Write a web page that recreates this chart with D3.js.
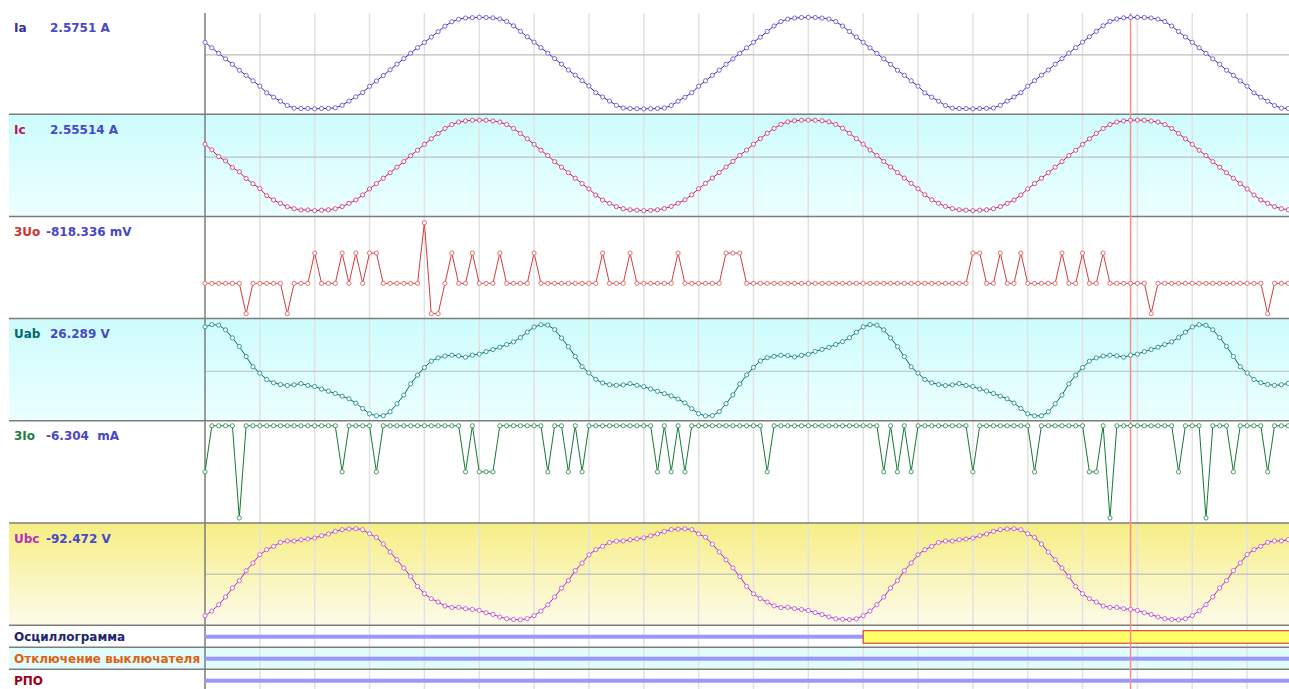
<!DOCTYPE html>
<html>
<head>
<meta charset="utf-8">
<script src="https://cdn.jsdelivr.net/npm/d3@7"></script>
<style>
body { margin: 0; background: #fff; }
svg { display: block; font-family: "DejaVu Sans", Verdana, sans-serif; }
text { white-space: pre; }
</style>
</head>
<body>
<svg id="chart" width="1289" height="689"></svg>
<script>
// samples per grid division and cursor position
var gridStep = 8;
var cursorSample = 135;

var ia = [1.17, 0.86, 0.55, 0.24, -0.07, -0.40, -0.69, -1.00, -1.30, -1.68, -1.92, -2.15, -2.39, -2.54, -2.56, -2.56, -2.58,
    -2.56, -2.55, -2.52, -2.38, -2.14, -1.90, -1.66, -1.31, -1.01, -0.70, -0.38, -0.06, 0.25, 0.56, 0.87, 1.16, 1.47, 1.77, 2.08, 2.33, 2.47, 2.54, 2.56, 2.58,
    2.57, 2.55, 2.49, 2.35, 2.10, 1.79, 1.48, 1.18, 0.87, 0.56, 0.25, -0.06, -0.39, -0.68, -0.99, -1.29, -1.67, -1.91, -2.14, -2.38, -2.53, -2.56, -2.57, -2.58,
    -2.57, -2.56, -2.53, -2.39, -2.15, -1.92, -1.67, -1.30, -1.00, -0.69, -0.40, -0.07, 0.24, 0.55, 0.86, 1.17, 1.46, 1.78, 2.09, 2.34, 2.48, 2.54, 2.57, 2.58,
    2.57, 2.54, 2.48, 2.34, 2.09, 1.78, 1.47, 1.17, 0.86, 0.55, 0.24, -0.07, -0.40, -0.69, -1.00, -1.30, -1.68, -1.92, -2.15, -2.39, -2.54, -2.56, -2.56, -2.58,
    -2.56, -2.55, -2.53, -2.38, -2.14, -1.91, -1.67, -1.30, -0.99, -0.68, -0.39, -0.06, 0.25, 0.56, 0.87, 1.18, 1.48, 1.79, 2.10, 2.35, 2.49, 2.55, 2.57, 2.58,
    2.57, 2.54, 2.48, 2.34, 2.09, 1.78, 1.47, 1.17, 0.86, 0.55, 0.24, -0.07, -0.40, -0.69, -1.00, -1.30, -1.68, -1.92, -2.15, -2.39, -2.54, -2.56];

var ic = [1.20, 0.88, 0.50, 0.26, -0.11, -0.35, -0.73, -1.02, -1.29, -1.69, -1.93, -2.12, -2.31, -2.42, -2.49, -2.49, -2.53,
    -2.50, -2.48, -2.42, -2.30, -2.12, -1.93, -1.65, -1.31, -1.01, -0.71, -0.40, -0.09, 0.22, 0.56, 0.86, 1.19, 1.50, 1.80, 2.08, 2.30, 2.44, 2.50, 2.54, 2.55,
    2.54, 2.50, 2.44, 2.30, 2.08, 1.80, 1.50, 1.19, 0.86, 0.56, 0.22, -0.09, -0.40, -0.71, -1.01, -1.31, -1.65, -1.93, -2.12, -2.30, -2.42, -2.48, -2.50, -2.53,
    -2.51, -2.48, -2.41, -2.29, -2.11, -1.92, -1.64, -1.30, -1.00, -0.70, -0.39, -0.08, 0.23, 0.57, 0.87, 1.20, 1.51, 1.81, 2.08, 2.31, 2.45, 2.51, 2.54, 2.55,
    2.54, 2.51, 2.45, 2.31, 2.09, 1.81, 1.51, 1.20, 0.87, 0.57, 0.23, -0.08, -0.39, -0.70, -1.00, -1.30, -1.64, -1.92, -2.11, -2.29, -2.41, -2.48, -2.50, -2.53,
    -2.50, -2.48, -2.42, -2.30, -2.12, -1.93, -1.65, -1.31, -1.01, -0.71, -0.40, -0.09, 0.22, 0.56, 0.86, 1.19, 1.50, 1.80, 2.08, 2.30, 2.44, 2.50, 2.54, 2.55,
    2.54, 2.50, 2.44, 2.30, 2.08, 1.80, 1.50, 1.19, 0.86, 0.56, 0.22, -0.09, -0.40, -0.71, -1.01, -1.31, -1.65, -1.93, -2.12, -2.30, -2.42, -2.48];

// 3Uo, mV
var u0 = [-818, -818, -818, -818, -818, -818, -1637, -818, -818, -818, -818, -818, -1637, -818, -818, -818,
    0, -818, -818, -818, 0, -818, 0, -818, 0, 0, -818, -818, -818, -818, -818, -818,
    818, -1637, -1637, -818, 0, -818, -818, 0, -818, -818, -818, 0, -818, -818, -818, -818,
    0, -818, -818, -818, -818, -818, -818, -818, -818, -818, 0, -818, -818, -818, 0, -818,
    -818, -818, -818, -818, -818, 0, -818, -818, -818, -818, -818, -818, 0, 0, 0, -818,
    -818, -818, -818, -818, -818, -818, -818, -818, -818, -818, -818, -818, -818, -818, -818, -818,
    -818, -818, -818, -818, -818, -818, -818, -818, -818, -818, -818, -818, -818, -818, -818, -818,
    0, 0, -818, -818, 0, -818, -818, 0, -818, -818, -818, -818, -818, 0, -818, -818,
    0, -818, -818, 0, -818, -818, -818, -818, -818, -818, -1637, -818, -818, -818, -818, -818,
    -818, -818, -818, -818, -818, -818, -818, -818, -818, -818, -818, -1637, -818, -818, -818];

var uab = [75.3, 79.2, 78.2, 70.1, 56.2, 41.2, 23.9, 6.1, -4.8, -15.9, -21.6, -24.6, -26.3, -25.1, -22.8, -26.3,
    -28.0, -32.5, -36.0, -40.1, -44.6, -49.3, -56.7, -66.1, -75.3, -78.7, -78.7, -71.8, -58.0, -42.9, -23.4, -8.3,
    4.8, 15.9, 21.6, 24.6, 26.3, 25.1, 22.8, 26.3, 28.0, 32.5, 36.0, 40.1, 44.6, 49.3, 56.7, 66.1,
    75.0, 79.0, 78.4, 70.5, 56.0, 41.0, 24.2, 6.4, -4.5, -15.6, -21.8, -24.9, -26.0, -25.3, -23.0, -26.0,
    -28.3, -32.2, -36.3, -40.4, -44.3, -49.6, -56.4, -66.4, -75.0, -79.0, -78.4, -71.5, -57.7, -42.6, -23.7, -8.0,
    5.1, 16.2, 21.9, 24.3, 26.0, 25.4, 23.1, 26.0, 27.7, 32.8, 36.3, 39.8, 44.9, 49.6, 56.4, 65.8,
    75.3, 79.2, 78.2, 70.1, 56.2, 41.2, 23.9, 6.1, -4.8, -15.9, -21.6, -24.6, -26.3, -25.1, -22.8, -26.3,
    -28.0, -32.5, -36.0, -40.1, -44.6, -49.3, -56.7, -66.1, -75.3, -78.7, -78.7, -71.8, -58.0, -42.9, -23.4, -8.3,
    4.8, 15.9, 21.6, 24.6, 26.3, 25.1, 22.8, 26.3, 28.0, 32.5, 36.0, 40.1, 44.6, 49.3, 56.7, 66.1,
    75.1, 79.0, 78.0, 70.3, 56.5, 41.5, 24.0, 6.2, -4.6, -15.8, -21.4, -24.4, -26.1, -25.0, -22.6];

// 3Io, mA
var i0 = [-12.6, -6.3, -6.3, -6.3, -6.3, -18.9, -6.3, -6.3, -6.3, -6.3, -6.3, -6.3, -6.3, -6.3, -6.3, -6.3,
    -6.3, -6.3, -6.3, -6.3, -12.6, -6.3, -6.3, -6.3, -6.3, -12.6, -6.3, -6.3, -6.3, -6.3, -6.3, -6.3,
    -6.3, -6.3, -6.3, -6.3, -6.3, -6.3, -12.6, -6.3, -12.6, -12.6, -12.6, -6.3, -6.3, -6.3, -6.3, -6.3,
    -6.3, -6.3, -12.6, -6.3, -6.3, -12.6, -6.3, -12.6, -6.3, -6.3, -6.3, -6.3, -6.3, -6.3, -6.3, -6.3,
    -6.3, -6.3, -12.6, -6.3, -12.6, -6.3, -12.6, -6.3, -6.3, -6.3, -6.3, -6.3, -6.3, -6.3, -6.3, -6.3,
    -6.3, -6.3, -12.6, -6.3, -6.3, -6.3, -6.3, -6.3, -6.3, -6.3, -6.3, -6.3, -6.3, -6.3, -6.3, -6.3,
    -6.3, -6.3, -6.3, -12.6, -6.3, -12.6, -6.3, -12.6, -6.3, -6.3, -6.3, -6.3, -6.3, -6.3, -6.3, -6.3,
    -12.6, -6.3, -6.3, -6.3, -6.3, -6.3, -6.3, -6.3, -6.3, -12.6, -6.3, -6.3, -6.3, -6.3, -6.3, -6.3,
    -6.3, -12.6, -12.6, -6.3, -18.9, -6.3, -6.3, -6.3, -6.3, -6.3, -6.3, -6.3, -6.3, -6.3, -12.6, -6.3,
    -6.3, -6.3, -18.9, -6.3, -6.3, -6.3, -12.6, -6.3, -6.3, -6.3, -6.3, -12.6, -6.3, -6.3, -6.3];

var ubc = [-109.1, -96.8, -80.2, -60.0, -36.3, -17.1, 9.2, 29.5, 51.3, 64.4, 73.1, 83.6, 87.3, 87.3, 90.7, 92.6,
    95.2, 101.3, 105.7, 112.6, 117.0, 118.9, 119.7, 117.0, 106.5, 96.8, 79.4, 58.4, 38.1, 16.3, -5.8, -32.1,
    -51.3, -64.4, -73.1, -83.6, -87.3, -87.3, -90.7, -92.6, -95.2, -101.3, -105.7, -112.6, -117.0, -118.9, -119.7, -117.0,
    -108.8, -97.1, -80.5, -59.7, -36.6, -16.8, 9.5, 29.2, 51.0, 64.7, 73.4, 83.3, 87.0, 87.6, 90.4, 92.9,
    95.5, 101.0, 106.0, 112.3, 117.3, 118.6, 119.4, 117.3, 106.2, 97.1, 79.1, 58.7, 37.8, 16.6, -6.1, -31.8,
    -51.6, -64.1, -73.4, -83.3, -87.6, -87.0, -90.4, -92.9, -95.5, -101.0, -106.0, -112.3, -117.3, -118.6, -119.4, -117.3,
    -109.1, -96.8, -80.2, -60.0, -36.3, -17.1, 9.2, 29.5, 51.3, 64.4, 73.1, 83.6, 87.3, 87.3, 90.7, 92.6,
    95.2, 101.3, 105.7, 112.6, 117.0, 118.9, 119.7, 117.0, 106.5, 96.8, 79.4, 58.4, 38.1, 16.3, -5.8, -32.1,
    -51.3, -64.4, -73.1, -83.6, -87.3, -87.3, -90.7, -92.5, -95.2, -101.3, -105.7, -112.6, -117.0, -118.9, -119.7, -117.0,
    -108.9, -96.6, -80.0, -59.8, -36.1, -16.9, 9.4, 29.7, 51.5, 64.6, 73.3, 83.8, 87.5, 87.5, 90.9];

// discrete channels: [fromSample, toSample, state]
var digOsc = [[0, 96, 0], [96, 158, 1]];
var digTrip = [[0, 158, 0]];
var digRpo = [[0, 158, 0]];

var channels = [
    {name: 'Ia', value: '2.5751 A', valueX: 50, data: ia, domain: [-2.88, 2.88], color: '#2a2aa8', dot: '#7a68d6', label: '#30308f', bg: null, mid: 0.42},
    {name: 'Ic', value: '2.55514 A', valueX: 50, data: ic, domain: [-2.85, 2.88], color: '#c8155a', dot: '#d8508a', label: '#c0105a', bg: 'cyan', mid: 0.42},
    {name: '3Uo', value: '-818.336 mV', valueX: 46, data: u0, domain: [-1770, 990], color: '#d03c3c', dot: '#e07070', label: '#cc3333', bg: null, mid: null},
    {name: 'Uab', value: '26.289 V', valueX: 50, data: uab, domain: [-87.4, 89.6], color: '#006a6a', dot: '#3a9a9a', label: '#006a6a', bg: 'cyan', mid: 0.515},
    {name: '3Io', value: '-6.304  mA', valueX: 46, data: i0, domain: [-19.59, -5.62], color: '#137a35', dot: '#4a9a6a', label: '#208040', bg: null, mid: null},
    {name: 'Ubc', value: '-92.472 V', valueX: 46, data: ubc, domain: [-134.1, 134.7], color: '#b020c0', dot: '#c868d8', label: '#b830b8', bg: 'yellow', mid: 0.5}
];

var digital = [
    {name: 'Осциллограмма', data: digOsc, label: '#22226e', bg: null},
    {name: 'Отключение выключателя', data: digTrip, label: '#e06010', bg: '#e2fcfc'},
    {name: 'РПО', data: digRpo, label: '#990022', bg: null}
];

var width = 1289, height = 689;
var left = 9, axisX = 205, top0 = 12, panelH = 102.2, rowH = 22;
var fontSize = 12;

var svg = d3.select('#chart');
var defs = svg.append('defs');

function gradient(id, c0, c1) {
    var g = defs.append('linearGradient').attr('id', id).attr('x1', 0).attr('y1', 0).attr('x2', 0).attr('y2', 1);
    g.append('stop').attr('offset', '0%').attr('stop-color', c0);
    g.append('stop').attr('offset', '100%').attr('stop-color', c1);
}
gradient('cyan', '#cdfcfc', '#ecffff');
gradient('yellow', '#f6ee84', '#fdfbea');

var x = d3.scaleLinear().domain([0, ia.length - 1]).range([axisX, axisX + (ia.length - 1) * 6.856]);

var analogBottom = top0 + channels.length * panelH;

// backgrounds
channels.forEach(function(ch, i) {
    if (ch.bg) {
        svg.append('rect').attr('x', left).attr('y', top0 + i * panelH).attr('width', width - left).attr('height', panelH)
            .attr('fill', 'url(#' + ch.bg + ')');
    }
});
digital.forEach(function(ch, i) {
    if (ch.bg) {
        svg.append('rect').attr('x', left).attr('y', analogBottom + i * rowH).attr('width', width - left).attr('height', rowH)
            .attr('fill', ch.bg);
    }
});

// vertical grid
var gridTicks = d3.range(gridStep, ia.length, gridStep);
svg.append('g').selectAll('line').data(gridTicks).enter().append('line')
    .attr('x1', function(d) { return x(d); }).attr('x2', function(d) { return x(d); })
    .attr('y1', top0 + 1).attr('y2', height)
    .attr('stroke', '#e2e2e2').attr('stroke-width', 1.5);

// horizontal mid lines
channels.forEach(function(ch, i) {
    if (ch.mid !== null) {
        var yy = top0 + i * panelH + ch.mid * panelH;
        svg.append('line').attr('x1', axisX).attr('x2', width).attr('y1', yy).attr('y2', yy)
            .attr('stroke', '#bdbdbd').attr('stroke-width', 1.2);
    }
});

// separators
var seps = d3.range(1, channels.length + 1).map(function(k) { return top0 + k * panelH; })
    .concat([1, 2].map(function(k) { return analogBottom + k * rowH; }));
svg.append('g').selectAll('line').data(seps).enter().append('line')
    .attr('x1', left).attr('x2', width).attr('y1', function(d) { return d; }).attr('y2', function(d) { return d; })
    .attr('stroke', '#7c7c7c').attr('stroke-width', 1.5);

svg.append('line').attr('x1', axisX).attr('x2', axisX).attr('y1', top0 + 1).attr('y2', height)
    .attr('stroke', '#7c7c7c').attr('stroke-width', 1.5);

// discrete rows
digital.forEach(function(ch, i) {
    var rowTop = analogBottom + i * rowH;
    ch.data.forEach(function(seg) {
        var x0 = x(seg[0]), x1 = seg[1] === ia.length - 1 ? width + 2 : x(seg[1]);
        if (seg[2] === 0) {
            svg.append('rect').attr('x', x0).attr('y', rowTop + 9.5).attr('width', x1 - x0).attr('height', 4)
                .attr('fill', '#9898ff');
        } else {
            svg.append('rect').attr('x', x0).attr('y', rowTop + 5.5).attr('width', x1 - x0).attr('height', 12.5)
                .attr('fill', '#ffff66').attr('stroke', '#cc2a2a').attr('stroke-width', 1);
        }
    });
    svg.append('text').attr('x', 14).attr('y', rowTop + 16).attr('fill', ch.label)
        .attr('font-size', fontSize).attr('font-weight', 'bold').text(ch.name);
});

// cursor
svg.append('line').attr('x1', x(cursorSample)).attr('x2', x(cursorSample)).attr('y1', top0 + 1).attr('y2', height)
    .attr('stroke', '#ff8a8a').attr('stroke-width', 1.5);

// analog series
channels.forEach(function(ch, i) {
    var panelTop = top0 + i * panelH;
    var y = d3.scaleLinear().domain(ch.domain).range([panelTop + panelH, panelTop]);
    var line = d3.line()
        .x(function(d, k) { return x(k); })
        .y(function(d) { return y(d); });

    var g = svg.append('g');
    g.append('path').datum(ch.data).attr('d', line)
        .attr('fill', 'none').attr('stroke', ch.color).attr('stroke-width', 1);
    g.selectAll('circle').data(ch.data).enter().append('circle')
        .attr('cx', function(d, k) { return x(k); })
        .attr('cy', function(d) { return y(d); })
        .attr('r', 2.1)
        .attr('fill', '#fff').attr('stroke', ch.dot).attr('stroke-width', 1);

    svg.append('text').attr('x', 14).attr('y', panelTop + 19.5).attr('fill', ch.label)
        .attr('font-size', fontSize).attr('font-weight', 'bold').text(ch.name);
    svg.append('text').attr('x', ch.valueX).attr('y', panelTop + 19.5).attr('fill', '#4848c8')
        .attr('font-size', fontSize).attr('font-weight', 'bold').text(ch.value);
});
</script>
</body>
</html>
